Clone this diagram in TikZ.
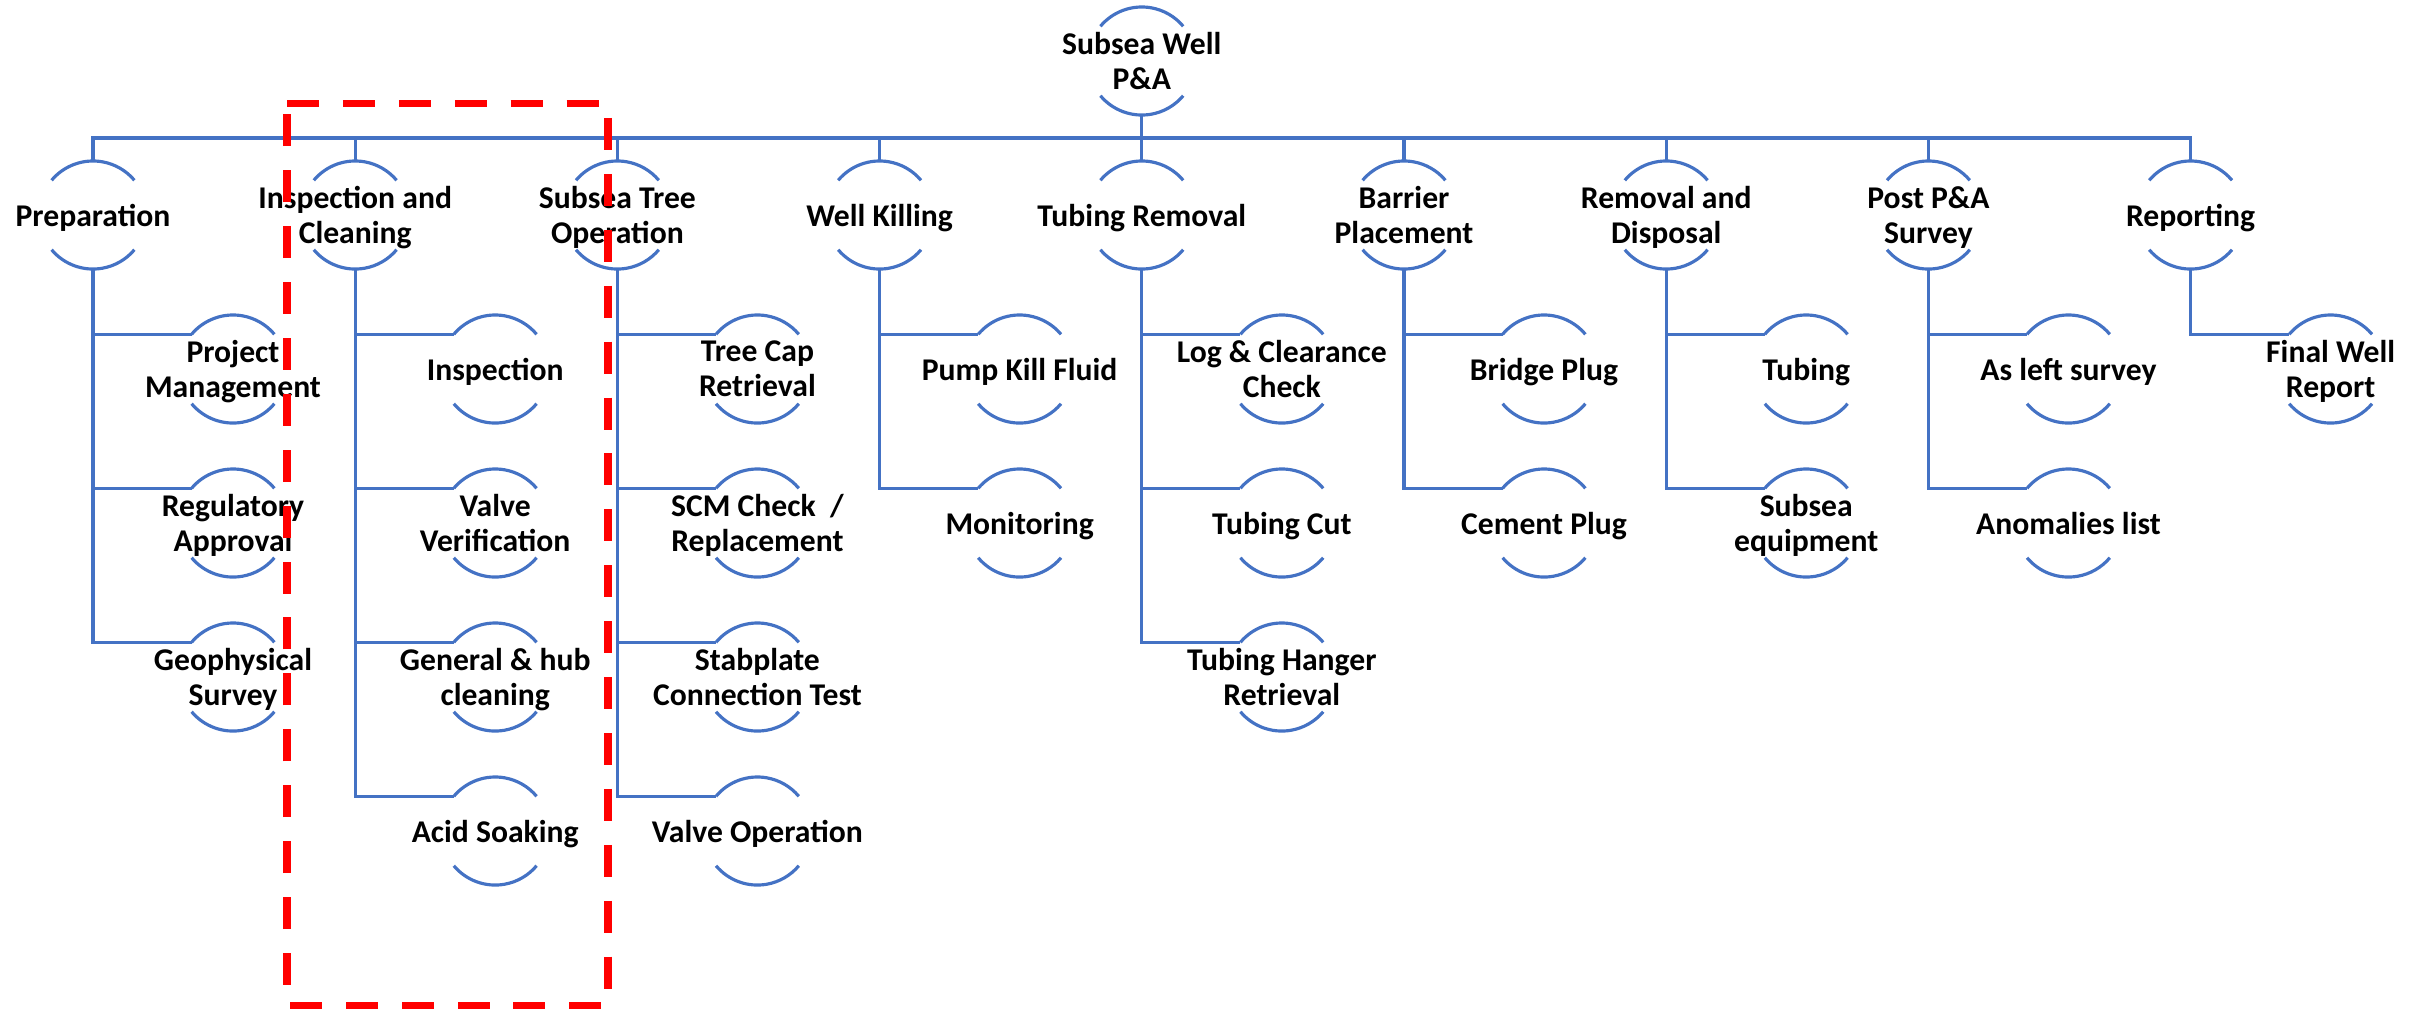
\documentclass[tikz,border=0pt]{standalone}
\usepackage{fontspec}
\setmainfont{Carlito}
\usetikzlibrary{calc}
\definecolor{lineblue}{RGB}{68,114,196}
\definecolor{boxred}{RGB}{255,0,0}
\tikzset{
  conn/.style={draw=lineblue, line width=0.9pt},
  lbl/.style={align=center, font=\bfseries\fontsize{9pt}{10pt}\selectfont, text=black, inner sep=0pt, text depth=0pt},
  hlbox/.style={draw=boxred, line width=2.1pt, dash pattern=on 9.1pt off 6.8pt}
}
\def\R{0.54cm}
% name, x, y, text
\newcommand\hnode[4]{%
  \node[lbl] (#1) at (#2,#3) {#4};
  \draw[conn] ($(#1.center)+(140:\R)$) arc[start angle=140,end angle=40,radius=\R];
  \draw[conn] ($(#1.center)+(-140:\R)$) arc[start angle=-140,end angle=-40,radius=\R];
  \coordinate (#1-t) at ($(#1.center)+(0,\R)$);
  \coordinate (#1-b) at ($(#1.center)+(0,-\R)$);
  \coordinate (#1-l) at ($(#1.center)+(140:\R)$);
}
\begin{document}
\begin{tikzpicture}[x=0.01cm,y=-0.01cm]
\useasboundingbox (0,0) rectangle (2425,1008);
% root
\hnode{root}{1141.8}{61}{Subsea Well\\P\&A}
% level 1
\hnode{A}{93}{215}{Preparation}
\hnode{B}{355.2}{215}{Inspection and\\Cleaning}
\hnode{C}{617.4}{215}{Subsea Tree\\Operation}
\hnode{D}{879.6}{215}{Well Killing}
\hnode{E}{1141.8}{215}{Tubing Removal}
\hnode{F}{1404}{215}{Barrier\\Placement}
\hnode{G}{1666.2}{215}{Removal and\\Disposal}
\hnode{H}{1928.4}{215}{Post P\&A\\Survey}
\hnode{I}{2190.6}{215}{Reporting}
% children
\hnode{A1}{233}{369}{Project\\Management}
\hnode{A2}{233}{523}{Regulatory\\Approval}
\hnode{A3}{233}{677}{Geophysical\\Survey}
\hnode{B1}{495.2}{369}{Inspection}
\hnode{B2}{495.2}{523}{Valve\\Verification}
\hnode{B3}{495.2}{677}{General \& hub\\cleaning}
\hnode{B4}{495.2}{831}{Acid Soaking}
\hnode{C1}{757.4}{369}{Tree Cap\\Retrieval}
\hnode{C2}{757.4}{523}{SCM Check \ /\\Replacement}
\hnode{C3}{757.4}{677}{Stabplate\\Connection Test}
\hnode{C4}{757.4}{831}{Valve Operation}
\hnode{D1}{1019.6}{369}{Pump Kill Fluid}
\hnode{D2}{1019.6}{523}{Monitoring}
\hnode{E1}{1281.8}{369}{Log \& Clearance\\Check}
\hnode{E2}{1281.8}{523}{Tubing Cut}
\hnode{E3}{1281.8}{677}{Tubing Hanger\\Retrieval}
\hnode{F1}{1544}{369}{Bridge Plug}
\hnode{F2}{1544}{523}{Cement Plug}
\hnode{G1}{1806.2}{369}{Tubing}
\hnode{G2}{1806.2}{523}{Subsea\\equipment}
\hnode{H1}{2068.4}{369}{As left survey}
\hnode{H2}{2068.4}{523}{Anomalies list}
\hnode{I1}{2330.6}{369}{Final Well\\Report}
% connectors root -> level 1
\foreach \n in {A,B,C,D,E,F,G,H,I}
  \draw[conn] (root-b) -- ++(0,23) -| (\n-t);
% connectors level 1 -> children
\foreach \p/\c in {A/A1,A/A2,A/A3,B/B1,B/B2,B/B3,B/B4,C/C1,C/C2,C/C3,C/C4,D/D1,D/D2,E/E1,E/E2,E/E3,F/F1,F/F2,G/G1,G/G2,H/H1,H/H2,I/I1}
  \draw[conn] (\p-b) |- (\c-l);
% highlight box
\coordinate (hl1) at (287,103.5);
\coordinate (hl2) at (608,103.5);
\coordinate (hl3) at (608,1006);
\coordinate (hl4) at (287,1006);
\draw[hlbox] (hl1) -- (hl2) -- (hl3) -- (hl4) -- cycle;
\end{tikzpicture}
\end{document}
